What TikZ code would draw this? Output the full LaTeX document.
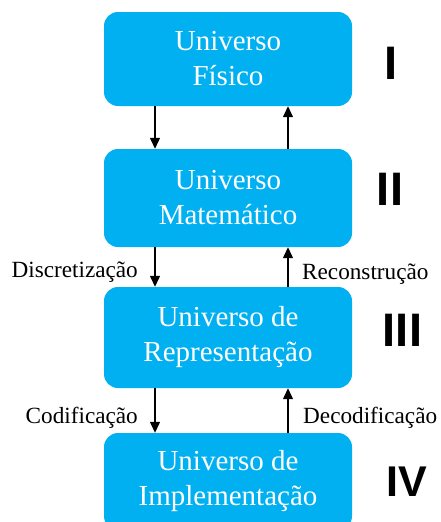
\documentclass[tikz,border=0pt]{standalone}
\usepackage{fontspec}
\setmainfont{Liberation Serif}
\newfontfamily\numfont{Liberation Sans}
\usetikzlibrary{arrows.meta}
\definecolor{boxblue}{RGB}{0,176,240}
\begin{document}
\begin{tikzpicture}[x=1pt,y=1pt,
  ubox/.style={draw=none, fill=boxblue, rounded corners=14pt, minimum width=248pt,
    text=white, align=center, font=\fontsize{29}{35}\selectfont, inner sep=0pt},
  flow/.style={draw=black, line width=1.3pt, -{Triangle[length=11pt,width=10pt]}},
  lbl/.style={font=\fontsize{23.2}{27}\selectfont, text=black, inner sep=0pt},
  roman/.style={font=\numfont\bfseries\fontsize{47}{50}\selectfont, text=black, inner sep=0pt}]
\useasboundingbox (0,0) rectangle (440,-522);
\fill[white] (0,0) rectangle (440,-522);
\begin{scope}
\clip (0,0) rectangle (440,-522);
\node[ubox, minimum height=94pt] (b1) at (228,-59) {Universo\\Físico};
\node[ubox, minimum height=98pt] (b2) at (228,-198) {Universo\\Matemático};
\node[ubox, minimum height=101pt] (b3) at (228,-337.5) {Universo de\\Representação};
\node[ubox, minimum height=97pt] (b4) at (228,-481.5) {Universo de\\Implementação};
\end{scope}
\draw[flow] ([xshift=-73pt]b1.south) -- ([xshift=-73pt]b2.north);
\draw[flow] ([xshift=60pt]b2.north) -- ([xshift=60pt]b1.south);
\draw[flow] ([xshift=-73pt]b2.south) -- ([xshift=-73pt]b3.north);
\draw[flow] ([xshift=60pt]b3.north) -- ([xshift=60pt]b2.south);
\draw[flow] ([xshift=-73pt]b3.south) -- ([xshift=-73pt]b4.north);
\draw[flow] ([xshift=60pt]b4.north) -- ([xshift=60pt]b3.south);
\node[lbl, anchor=base east] (ldisc) at (138,-277) {Discretização};
\node[lbl, anchor=base west] (lrec) at (302,-279) {Reconstrução};
\node[lbl, anchor=base east] (lcod) at (138,-423) {Codificação};
\node[lbl, anchor=base west] (ldec) at (303,-423) {Decodificação};
\node[roman] (r1) at (391,-63.5) {I};
\node[roman] (r2) at (390,-189) {II};
\node[roman] (r3) at (402.5,-330) {III};
\node[roman, font=\numfont\bfseries\fontsize{43}{46}\selectfont] (r4) at (406.5,-482) {IV};
\end{tikzpicture}
\end{document}
